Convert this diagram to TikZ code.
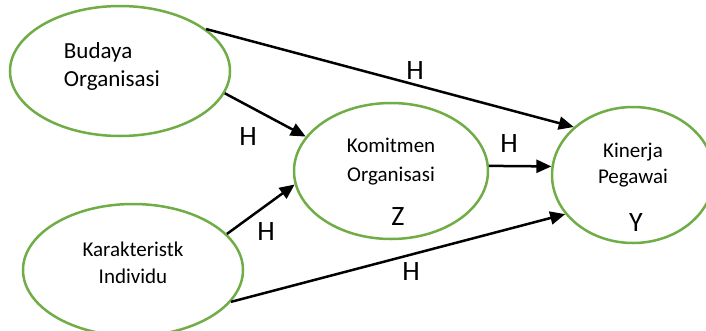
\documentclass[tikz,border=0pt]{standalone}
\usepackage{fontspec}
\setmainfont{Carlito}
\usetikzlibrary{shapes.geometric,arrows.meta}
\definecolor{ovalgreen}{RGB}{112,173,71}

\begin{document}
\begin{tikzpicture}[x=1pt,y=1pt,yscale=-1,xscale=1,
  oval/.style={draw=ovalgreen,line width=2.5pt,shape=ellipse,inner sep=0pt},
  link/.style={line width=2.5pt,-{Triangle[length=15pt,width=13pt]}},
  hlabel/.style={inner sep=0.75pt,font=\fontsize{28}{32}\selectfont},
  varlabel/.style={inner sep=0.75pt,font=\fontsize{28}{32}\selectfont}]
\useasboundingbox (0,0) rectangle (706,330);

%Ellipses
\draw (120,71) node [oval,minimum width=220pt,minimum height=130pt] (budaya) {};
\draw (391,171) node [oval,minimum width=194pt,minimum height=136pt] (komitmen) {};
\draw (633,175) node [oval,minimum width=162pt,minimum height=136pt] (kinerja) {};
\draw (133,270) node [oval,minimum width=220pt,minimum height=132pt] (karakter) {};

% Text Node
\draw (63,66) node [anchor=west][inner sep=0.75pt][align=left,font=\fontsize{23}{28}\selectfont] (tbudaya) {Budaya\\Organisasi};
% Text Node
\draw (391,162) node [inner sep=0.75pt][align=center,font=\fontsize{21}{29}\selectfont] (tkomitmen) {Komitmen\\Organisasi};
% Text Node
\draw (633,165) node [inner sep=0.75pt][align=center,font=\fontsize{21}{26}\selectfont] (tkinerja) {Kinerja\\Pegawai};
% Text Node
\draw (133,263) node [inner sep=0.75pt][align=center,font=\fontsize{21}{27}\selectfont] (tkarakter) {Karakteristk\\Individu};
% Text Node
\draw (398,217) node [varlabel] (z) {Z};
% Text Node
\draw (636,223) node [varlabel] (y) {Y};

%Arrows
\draw [link] (budaya.26) -- (kinerja.141);
\draw [link] (budaya.-12) -- (komitmen.158);
\draw [link] (karakter.21) -- (komitmen.188);
\draw [link] (komitmen.3) -- (kinerja.174);
\draw [link] (karakter.-18) -- (kinerja.210);

%Labels
\draw (415,71) node [hlabel] (h1) {H};
\draw (248,137) node [hlabel] (h2) {H};
\draw (266,232) node [hlabel] (h3) {H};
\draw (509,144) node [hlabel] (h4) {H};
\draw (411,272) node [hlabel] (h5) {H};

\end{tikzpicture}
\end{document}
